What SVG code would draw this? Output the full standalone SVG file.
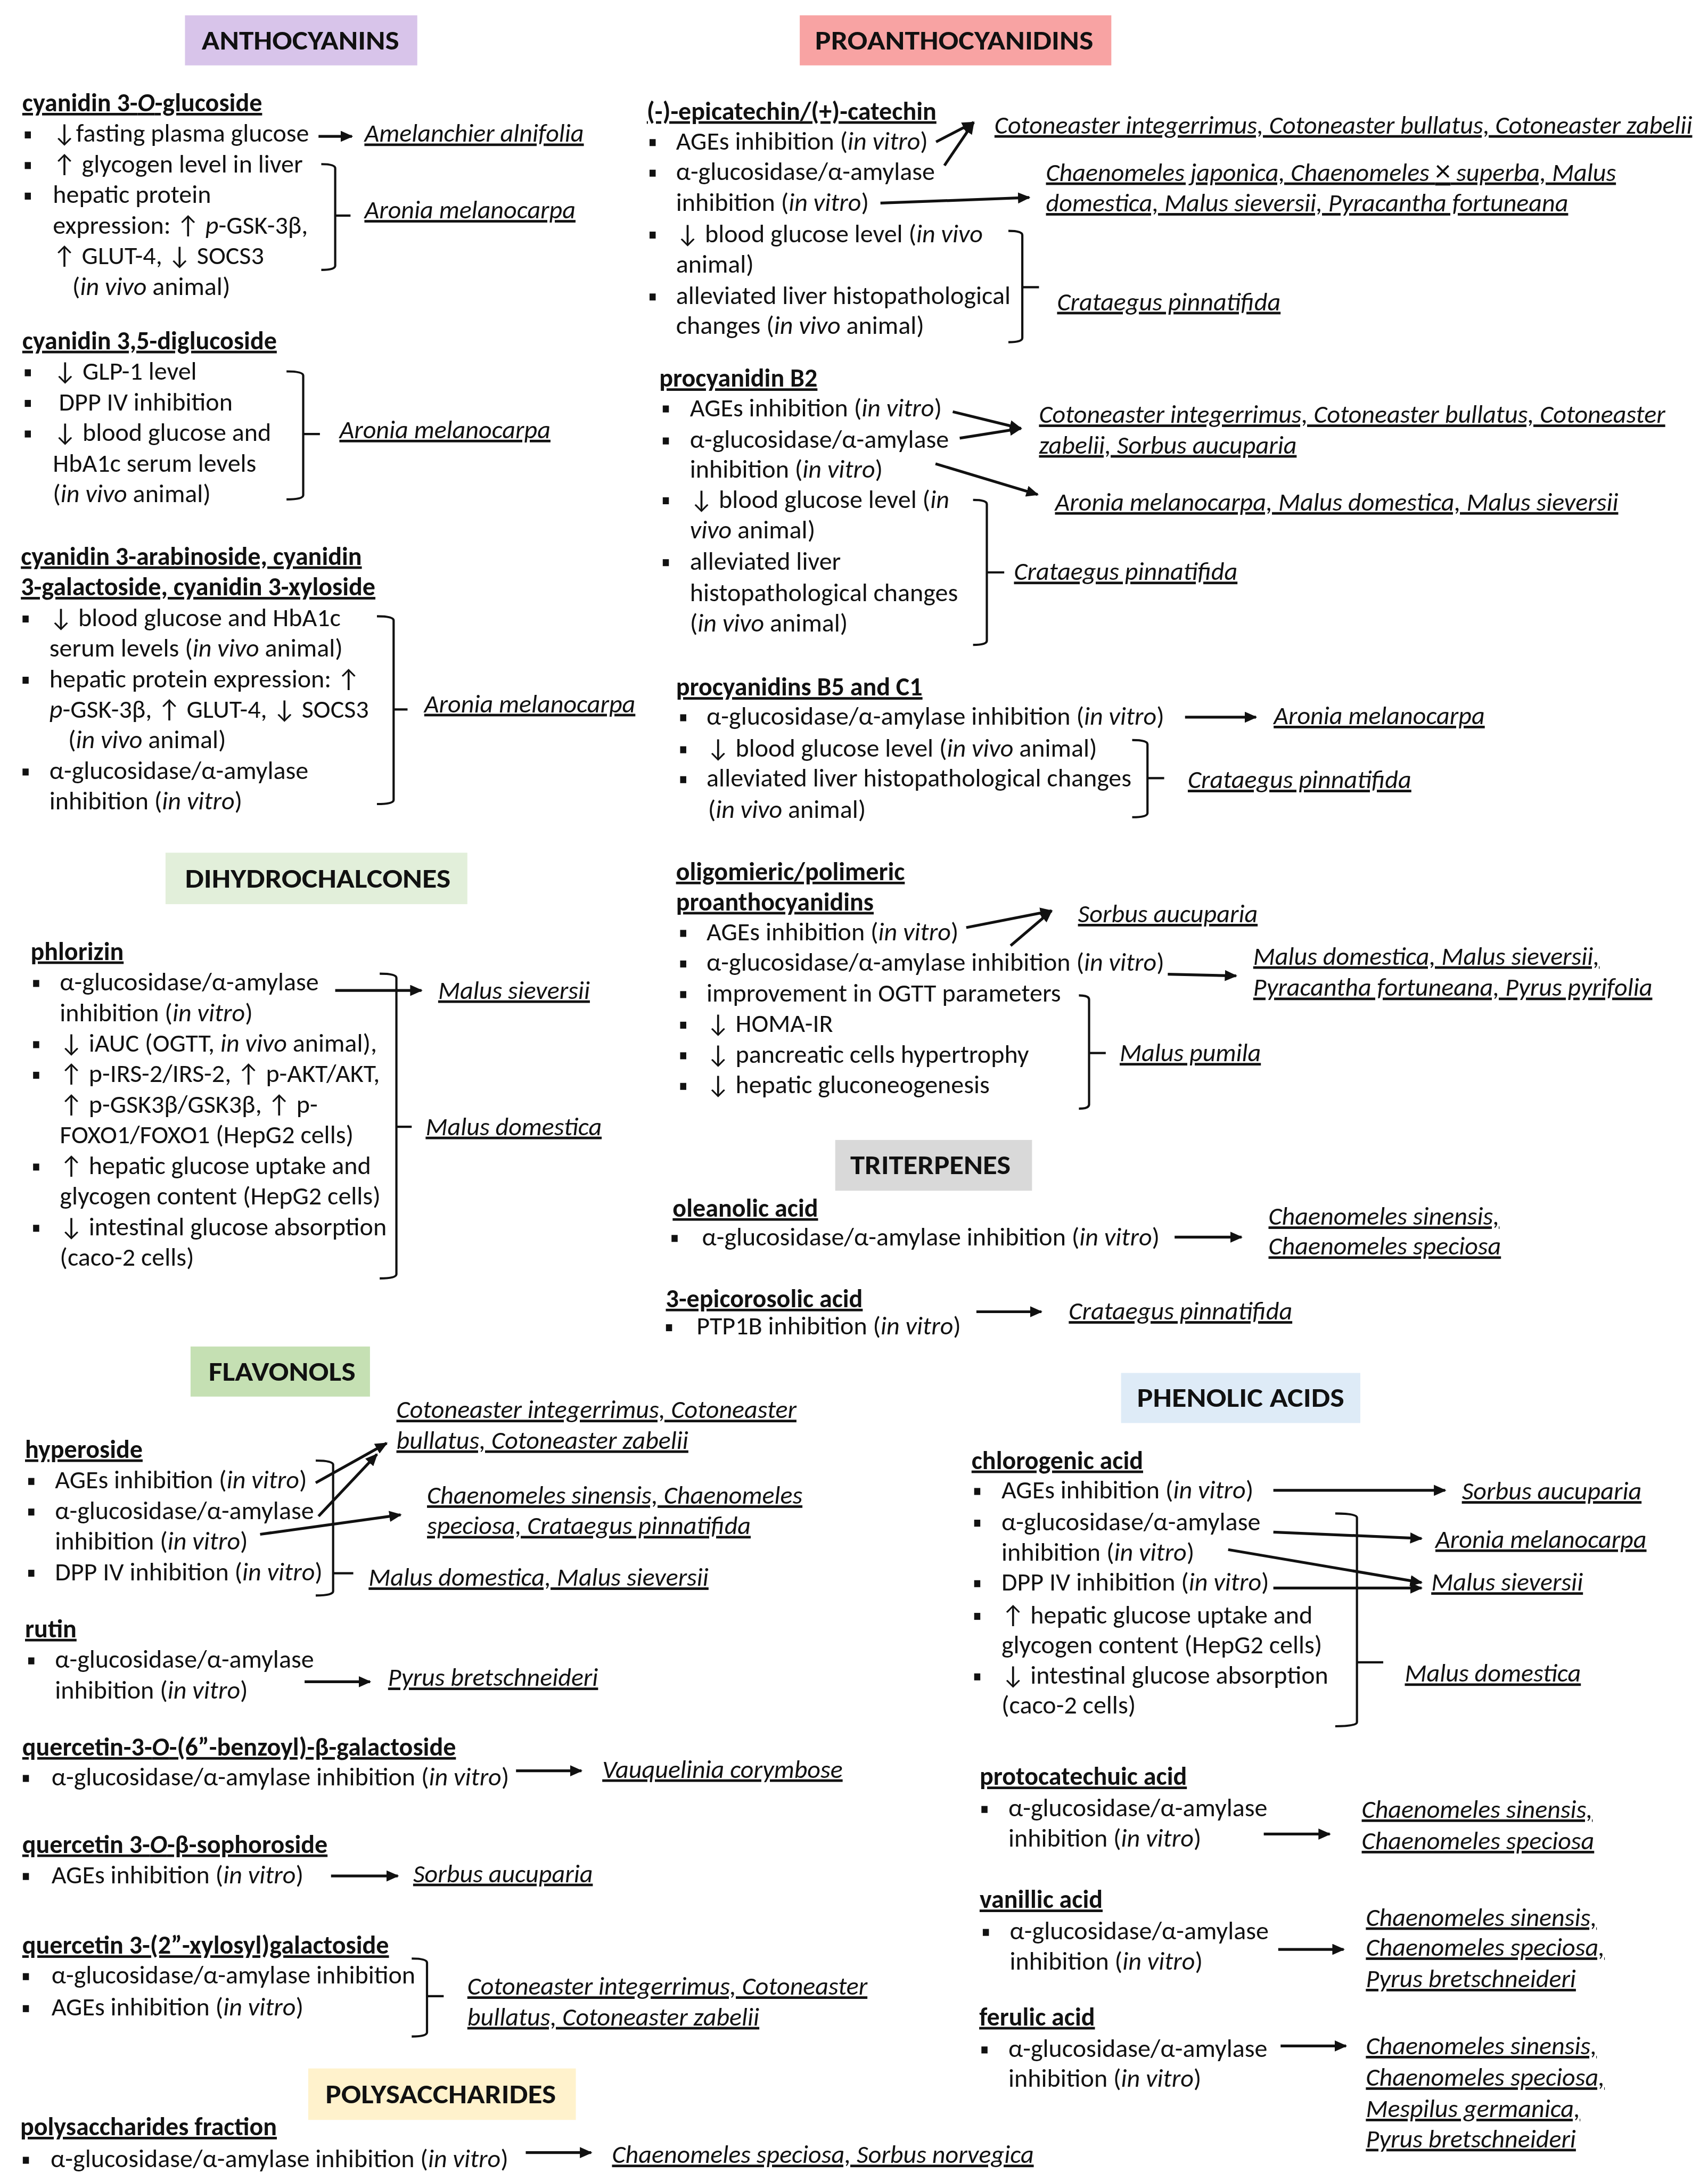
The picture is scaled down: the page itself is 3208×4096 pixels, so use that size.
<svg xmlns="http://www.w3.org/2000/svg" width="3208" height="4096" viewBox="0 0 3208 4096">
<defs>
<style>
.t{font-family:Carlito,Lato,"Noto Sans",sans-serif;font-size:18.4px;fill:#111}
.ti{font-weight:bold;text-decoration:underline}
.sp{font-style:italic;text-decoration:underline}
.h{font-weight:bold;font-size:19.5px}
.i{font-style:italic}
.n{font-style:normal}
.bl{fill:#111}
.ar{stroke:#111;stroke-width:2;fill:none;marker-end:url(#ah)}
.br{stroke:#111;stroke-width:1.6;fill:none}
</style>
<marker id="ah" viewBox="0 0 10 10" refX="9" refY="5" markerWidth="9" markerHeight="8" markerUnits="userSpaceOnUse" orient="auto" preserveAspectRatio="none"><path d="M0,0 L10,5 L0,10 z" fill="#111"/></marker>
</defs>
<rect width="3208" height="4096" fill="#fff"/>
<g transform="scale(2.6124)">

<!-- Headers -->
<g id="hdr-anthocyanins"><rect x="133" y="11" width="167" height="36" fill="#D8C4EA"/><text class="t h" x="145" y="35.5" textLength="142" lengthAdjust="spacingAndGlyphs">ANTHOCYANINS</text></g>
<g id="hdr-proanthocyanidins"><rect x="575" y="11" width="224" height="36" fill="#F8A3A3"/><text class="t h" x="586" y="35.5" textLength="200" lengthAdjust="spacingAndGlyphs">PROANTHOCYANIDINS</text></g>
<g id="hdr-dihydrochalcones"><rect x="119" y="613" width="217" height="37" fill="#E2EFDA"/><text class="t h" x="133" y="638" textLength="191" lengthAdjust="spacingAndGlyphs">DIHYDROCHALCONES</text></g>
<g id="hdr-triterpenes"><rect x="600.5" y="819.5" width="141.5" height="36.5" fill="#D9D9D9"/><text class="t h" x="611.3" y="844" textLength="115.3" lengthAdjust="spacingAndGlyphs">TRITERPENES</text></g>
<g id="hdr-flavonols"><rect x="137" y="968" width="129" height="36" fill="#C5E0B3"/><text class="t h" x="150" y="992.5" textLength="105.6" lengthAdjust="spacingAndGlyphs">FLAVONOLS</text></g>
<g id="hdr-phenolic-acids"><rect x="806" y="987" width="172" height="36" fill="#DEEBF7"/><text class="t h" x="817.5" y="1011.5" textLength="149" lengthAdjust="spacingAndGlyphs">PHENOLIC ACIDS</text></g>
<g id="hdr-polysaccharides"><rect x="221.6" y="1487" width="192.4" height="37" fill="#FFF2CC"/><text class="t h" x="234" y="1512" textLength="165.7" lengthAdjust="spacingAndGlyphs">POLYSACCHARIDES</text></g>

<!-- ANTHOCYANINS compounds -->
<g id="c3g">
<text class="t ti" x="16" y="80">cyanidin 3-<tspan class="i">O</tspan>-glucoside</text>
<rect class="bl" x="17.8" y="94.5" width="4.4" height="5"/>
<rect class="bl" x="17.8" y="116.5" width="4.4" height="5"/>
<rect class="bl" x="17.8" y="138.5" width="4.4" height="5"/>
<text class="t" x="38" y="102">↓fasting plasma glucose</text>
<text class="t" x="38" y="124">↑ glycogen level in liver</text>
<text class="t" x="38" y="146">hepatic protein</text>
<text class="t" x="38" y="168">expression: ↑ <tspan class="i">p</tspan>-GSK-3β,</text>
<text class="t" x="38" y="190">↑ GLUT-4, ↓ SOCS3</text>
<text class="t" x="52" y="212">(<tspan class="i">in vivo</tspan> animal)</text>
</g>
<g id="c35">
<text class="t ti" x="16" y="251">cyanidin 3,5-diglucoside</text>
<rect class="bl" x="17.8" y="265.5" width="4.4" height="5"/>
<rect class="bl" x="17.8" y="287.5" width="4.4" height="5"/>
<rect class="bl" x="17.8" y="309.5" width="4.4" height="5"/>
<text class="t" x="38.5" y="273">↓ GLP-1 level</text>
<text class="t" x="42.3" y="295">DPP IV inhibition</text>
<text class="t" x="38.5" y="317">↓ blood glucose and</text>
<text class="t" x="38" y="339">HbA1c serum levels</text>
<text class="t" x="38" y="361">(<tspan class="i">in vivo</tspan> animal)</text>
</g>
<g id="c3ara">
<text class="t ti" x="15" y="406">cyanidin 3-arabinoside, cyanidin</text>
<text class="t ti" x="15" y="428">3-galactoside, cyanidin 3-xyloside</text>
<rect class="bl" x="16.2" y="442.5" width="4.4" height="5"/>
<rect class="bl" x="16.2" y="486.5" width="4.4" height="5"/>
<rect class="bl" x="16.2" y="552.5" width="4.4" height="5"/>
<text class="t" x="35.5" y="450">↓ blood glucose and HbA1c</text>
<text class="t" x="35.5" y="472">serum levels (<tspan class="i">in vivo</tspan> animal)</text>
<text class="t" x="35.5" y="494">hepatic protein expression: ↑</text>
<text class="t" x="35.5" y="516"><tspan class="i">p</tspan>-GSK-3β, ↑ GLUT-4, ↓ SOCS3</text>
<text class="t" x="49" y="538">(<tspan class="i">in vivo</tspan> animal)</text>
<text class="t" x="35.5" y="560">α-glucosidase/α-amylase</text>
<text class="t" x="35.5" y="582">inhibition (<tspan class="i">in vitro</tspan>)</text>
</g>

<!-- DIHYDROCHALCONES -->
<g id="phlorizin">
<text class="t ti" x="22" y="690">phlorizin</text>
<rect class="bl" x="23.8" y="704.5" width="4.4" height="5"/>
<rect class="bl" x="23.8" y="748.5" width="4.4" height="5"/>
<rect class="bl" x="23.8" y="770.5" width="4.4" height="5"/>
<rect class="bl" x="23.8" y="836.5" width="4.4" height="5"/>
<rect class="bl" x="23.8" y="880.5" width="4.4" height="5"/>
<text class="t" x="43" y="712">α-glucosidase/α-amylase</text>
<text class="t" x="43" y="734">inhibition (<tspan class="i">in vitro</tspan>)</text>
<text class="t" x="43" y="756">↓ iAUC (OGTT, <tspan class="i">in vivo</tspan> animal),</text>
<text class="t" x="43" y="778">↑ p-IRS-2/IRS-2, ↑ p-AKT/AKT,</text>
<text class="t" x="43" y="800">↑ p-GSK3β/GSK3β, ↑ p-</text>
<text class="t" x="43" y="822">FOXO1/FOXO1  (HepG2 cells)</text>
<text class="t" x="43" y="844">↑ hepatic glucose uptake and</text>
<text class="t" x="43" y="866">glycogen content (HepG2 cells)</text>
<text class="t" x="43" y="888">↓ intestinal glucose absorption</text>
<text class="t" x="43" y="910">(caco-2 cells)</text>
</g>

<!-- FLAVONOLS -->
<g id="hyperoside">
<text class="t ti" x="18" y="1048">hyperoside</text>
<rect class="bl" x="20.3" y="1062.5" width="4.4" height="5"/>
<rect class="bl" x="20.3" y="1084.5" width="4.4" height="5"/>
<rect class="bl" x="20.3" y="1128.5" width="4.4" height="5"/>
<text class="t" x="39.5" y="1070">AGEs inhibition (<tspan class="i">in vitro</tspan>)</text>
<text class="t" x="39.5" y="1092">α-glucosidase/α-amylase</text>
<text class="t" x="39.5" y="1114">inhibition (<tspan class="i">in vitro</tspan>)</text>
<text class="t" x="39.5" y="1136">DPP IV inhibition (<tspan class="i">in vitro</tspan>)</text>
</g>
<g id="rutin">
<text class="t ti" x="18" y="1177">rutin</text>
<rect class="bl" x="20.3" y="1191.5" width="4.4" height="5"/>
<text class="t" x="39.5" y="1199">α-glucosidase/α-amylase</text>
<text class="t" x="39.5" y="1221">inhibition (<tspan class="i">in vitro</tspan>)</text>
</g>
<g id="q-benzoyl">
<text class="t ti" x="16" y="1262">quercetin-3-<tspan class="i">O</tspan>-(6”-benzoyl)-β-galactoside</text>
<rect class="bl" x="16.4" y="1276" width="4.4" height="5"/>
<text class="t" x="37" y="1283.5">α-glucosidase/α-amylase inhibition (<tspan class="i">in vitro</tspan>)</text>
</g>
<g id="q-sophoroside">
<text class="t ti" x="16" y="1332">quercetin 3-<tspan class="i">O</tspan>-β-sophoroside</text>
<rect class="bl" x="16.4" y="1346.5" width="4.4" height="5"/>
<text class="t" x="37" y="1354">AGEs inhibition (<tspan class="i">in vitro</tspan>)</text>
</g>
<g id="q-xylosyl">
<text class="t ti" x="16" y="1404.5">quercetin 3-(2”-xylosyl)galactoside</text>
<rect class="bl" x="16.4" y="1418.5" width="4.4" height="5"/>
<rect class="bl" x="16.4" y="1441.5" width="4.4" height="5"/>
<text class="t" x="37" y="1426">α-glucosidase/α-amylase inhibition</text>
<text class="t" x="37" y="1449">AGEs inhibition (<tspan class="i">in vitro</tspan>)</text>
</g>

<!-- POLYSACCHARIDES -->
<g id="polysaccharides-fraction">
<text class="t ti" x="14.5" y="1535">polysaccharides fraction</text>
<rect class="bl" x="16.4" y="1550.5" width="4.4" height="5"/>
<text class="t" x="36.4" y="1558">α-glucosidase/α-amylase inhibition (<tspan class="i">in vitro</tspan>)</text>
</g>

<!-- PROANTHOCYANIDINS -->
<g id="epicatechin">
<text class="t ti" x="465" y="86">(-)-epicatechin/(+)-catechin</text>
<rect class="bl" x="467" y="100" width="4.4" height="5"/>
<rect class="bl" x="467" y="122" width="4.4" height="5"/>
<rect class="bl" x="467" y="166.5" width="4.4" height="5"/>
<rect class="bl" x="467" y="211" width="4.4" height="5"/>
<text class="t" x="486" y="107.5">AGEs inhibition (<tspan class="i">in vitro</tspan>)</text>
<text class="t" x="486" y="129.5">α-glucosidase/α-amylase</text>
<text class="t" x="486" y="151.5">inhibition (<tspan class="i">in vitro</tspan>)</text>
<text class="t" x="486" y="174">↓ blood glucose level (<tspan class="i">in vivo</tspan></text>
<text class="t" x="486" y="196">animal)</text>
<text class="t" x="486" y="218.5">alleviated liver histopathological</text>
<text class="t" x="486" y="240">changes (<tspan class="i">in vivo</tspan> animal)</text>
</g>
<g id="procyanidin-b2">
<text class="t ti" x="474" y="278">procyanidin B2</text>
<rect class="bl" x="476.5" y="291.5" width="4.4" height="5"/>
<rect class="bl" x="476.5" y="314.5" width="4.4" height="5"/>
<rect class="bl" x="476.5" y="357.5" width="4.4" height="5"/>
<rect class="bl" x="476.5" y="402" width="4.4" height="5"/>
<text class="t" x="496" y="299.5">AGEs inhibition (<tspan class="i">in vitro</tspan>)</text>
<text class="t" x="496" y="322">α-glucosidase/α-amylase</text>
<text class="t" x="496" y="343.5">inhibition (<tspan class="i">in vitro</tspan>)</text>
<text class="t" x="496" y="365">↓ blood glucose level (<tspan class="i">in</tspan></text>
<text class="t" x="496" y="387"><tspan class="i">vivo</tspan> animal)</text>
<text class="t" x="496" y="409.5">alleviated liver</text>
<text class="t" x="496" y="432">histopathological changes</text>
<text class="t" x="496" y="454">(<tspan class="i">in vivo</tspan> animal)</text>
</g>
<g id="procyanidins-b5-c1">
<text class="t ti" x="486" y="500">procyanidins B5 and C1</text>
<rect class="bl" x="489" y="513.5" width="4.4" height="5"/>
<rect class="bl" x="489" y="536.5" width="4.4" height="5"/>
<rect class="bl" x="489" y="558" width="4.4" height="5"/>
<text class="t" x="508" y="521">α-glucosidase/α-amylase inhibition (<tspan class="i">in vitro</tspan>)</text>
<text class="t" x="508" y="544">↓ blood glucose level (<tspan class="i">in vivo</tspan> animal)</text>
<text class="t" x="508" y="565.5">alleviated liver histopathological changes</text>
<text class="t" x="509" y="588">(<tspan class="i">in vivo</tspan> animal)</text>
</g>
<g id="oligomeric-proanthocyanidins">
<text class="t ti" x="486" y="632.7">oligomieric/polimeric</text>
<text class="t ti" x="486" y="654.4">proanthocyanidins</text>
<rect class="bl" x="489" y="668.5" width="4.4" height="5"/>
<rect class="bl" x="489" y="690.5" width="4.4" height="5"/>
<rect class="bl" x="489" y="712.5" width="4.4" height="5"/>
<rect class="bl" x="489" y="734.5" width="4.4" height="5"/>
<rect class="bl" x="489" y="756.5" width="4.4" height="5"/>
<rect class="bl" x="489" y="778.5" width="4.4" height="5"/>
<text class="t" x="508" y="676">AGEs inhibition (<tspan class="i">in vitro</tspan>)</text>
<text class="t" x="508" y="698">α-glucosidase/α-amylase inhibition (<tspan class="i">in vitro</tspan>)</text>
<text class="t" x="508" y="720">improvement in OGTT parameters</text>
<text class="t" x="508" y="742">↓ HOMA-IR</text>
<text class="t" x="508" y="764">↓ pancreatic cells hypertrophy</text>
<text class="t" x="508" y="786">↓ hepatic gluconeogenesis</text>
</g>

<!-- TRITERPENES -->
<g id="oleanolic-acid">
<text class="t ti" x="483.6" y="874.6">oleanolic acid</text>
<rect class="bl" x="482.8" y="887.8" width="4.4" height="5"/>
<text class="t" x="504.7" y="895.3">α-glucosidase/α-amylase inhibition (<tspan class="i">in vitro</tspan>)</text>
</g>
<g id="epicorosolic-acid">
<text class="t ti" x="478.7" y="939.7">3-epicorosolic acid</text>
<rect class="bl" x="478.8" y="952" width="4.4" height="5"/>
<text class="t" x="500.8" y="959.4">PTP1B inhibition (<tspan class="i">in vitro</tspan>)</text>
</g>

<!-- PHENOLIC ACIDS -->
<g id="chlorogenic-acid">
<text class="t ti" x="698.5" y="1056">chlorogenic acid</text>
<rect class="bl" x="700.4" y="1069.7" width="4.4" height="5"/>
<rect class="bl" x="700.4" y="1092.5" width="4.4" height="5"/>
<rect class="bl" x="700.4" y="1136" width="4.4" height="5"/>
<rect class="bl" x="700.4" y="1159.5" width="4.4" height="5"/>
<rect class="bl" x="700.4" y="1203" width="4.4" height="5"/>
<text class="t" x="720" y="1077.2">AGEs inhibition (<tspan class="i">in vitro</tspan>)</text>
<text class="t" x="720" y="1100">α-glucosidase/α-amylase</text>
<text class="t" x="720" y="1122">inhibition (<tspan class="i">in vitro</tspan>)</text>
<text class="t" x="720" y="1143.5">DPP IV inhibition (<tspan class="i">in vitro</tspan>)</text>
<text class="t" x="720" y="1167">↑ hepatic glucose uptake and</text>
<text class="t" x="720" y="1188.5">glycogen content (HepG2 cells)</text>
<text class="t" x="720" y="1210.5">↓ intestinal glucose absorption</text>
<text class="t" x="720" y="1232">(caco-2 cells)</text>
</g>
<g id="protocatechuic-acid">
<text class="t ti" x="704.3" y="1283.2">protocatechuic acid</text>
<rect class="bl" x="705.6" y="1298.3" width="4.4" height="5"/>
<text class="t" x="725" y="1305.8">α-glucosidase/α-amylase</text>
<text class="t" x="725" y="1327.4">inhibition (<tspan class="i">in vitro</tspan>)</text>
</g>
<g id="vanillic-acid">
<text class="t ti" x="704.3" y="1371.6">vanillic acid</text>
<rect class="bl" x="706.6" y="1386.7" width="4.4" height="5"/>
<text class="t" x="726" y="1394.2">α-glucosidase/α-amylase</text>
<text class="t" x="726" y="1415.8">inhibition (<tspan class="i">in vitro</tspan>)</text>
</g>
<g id="ferulic-acid">
<text class="t ti" x="704" y="1456">ferulic acid</text>
<rect class="bl" x="705.6" y="1471.2" width="4.4" height="5"/>
<text class="t" x="725" y="1478.7">α-glucosidase/α-amylase</text>
<text class="t" x="725" y="1500.3">inhibition (<tspan class="i">in vitro</tspan>)</text>
</g>

<!-- Species -->
<g id="sp-amelanchier"><text class="t sp" x="262" y="102">Amelanchier alnifolia</text></g>
<g id="sp-aronia-1"><text class="t sp" x="262" y="157">Aronia melanocarpa</text></g>
<g id="sp-aronia-2"><text class="t sp" x="244" y="315">Aronia melanocarpa</text></g>
<g id="sp-aronia-3"><text class="t sp" x="305" y="512">Aronia melanocarpa</text></g>
<g id="sp-malus-sieversii-1"><text class="t sp" x="315" y="718">Malus sieversii</text></g>
<g id="sp-malus-domestica-1"><text class="t sp" x="306" y="816">Malus domestica</text></g>
<g id="sp-cotoneaster-1"><text class="t sp" x="285" y="1019.5">Cotoneaster integerrimus, Cotoneaster</text><text class="t sp" x="285" y="1041.5">bullatus, Cotoneaster zabelii</text></g>
<g id="sp-chaenomeles-1"><text class="t sp" x="307" y="1081">Chaenomeles sinensis, Chaenomeles</text><text class="t sp" x="307" y="1103">speciosa, Crataegus pinnatifida</text></g>
<g id="sp-malus-2"><text class="t sp" x="265" y="1140">Malus domestica, Malus sieversii</text></g>
<g id="sp-pyrus-1"><text class="t sp" x="279" y="1212">Pyrus bretschneideri</text></g>
<g id="sp-vauquelinia"><text class="t sp" x="433" y="1278">Vauquelinia corymbose</text></g>
<g id="sp-sorbus-1"><text class="t sp" x="297" y="1353">Sorbus aucuparia</text></g>
<g id="sp-cotoneaster-2"><text class="t sp" x="336" y="1434">Cotoneaster integerrimus, Cotoneaster</text><text class="t sp" x="336" y="1456">bullatus, Cotoneaster zabelii</text></g>
<g id="sp-chaenomeles-sorbus"><text class="t sp" x="440" y="1555">Chaenomeles speciosa, Sorbus norvegica</text></g>
<g id="sp-cotoneaster-3"><text class="t sp" x="715" y="96">Cotoneaster integerrimus, Cotoneaster bullatus, Cotoneaster zabelii</text></g>
<g id="sp-chaenomeles-2"><text class="t sp" x="752" y="130">Chaenomeles japonica, Chaenomeles <tspan class="n" font-size="22">×</tspan> superba, Malus</text><text class="t sp" x="752" y="152">domestica, Malus sieversii, Pyracantha fortuneana</text></g>
<g id="sp-crataegus-1"><text class="t sp" x="760" y="223">Crataegus pinnatifida</text></g>
<g id="sp-cotoneaster-4"><text class="t sp" x="747" y="304">Cotoneaster integerrimus, Cotoneaster bullatus, Cotoneaster</text><text class="t sp" x="747" y="326">zabelii, Sorbus aucuparia</text></g>
<g id="sp-aronia-malus"><text class="t sp" x="758.5" y="367">Aronia melanocarpa, Malus domestica, Malus sieversii</text></g>
<g id="sp-crataegus-2"><text class="t sp" x="729" y="417">Crataegus pinnatifida</text></g>
<g id="sp-aronia-4"><text class="t sp" x="915.7" y="520.6">Aronia melanocarpa</text></g>
<g id="sp-crataegus-3"><text class="t sp" x="854" y="566.6">Crataegus pinnatifida</text></g>
<g id="sp-sorbus-2"><text class="t sp" x="775" y="663">Sorbus aucuparia</text></g>
<g id="sp-malus-pyrus"><text class="t sp" x="901" y="693.5">Malus domestica, Malus sieversii,</text><text class="t sp" x="901" y="716">Pyracantha fortuneana, Pyrus pyrifolia</text></g>
<g id="sp-malus-pumila"><text class="t sp" x="805" y="763">Malus pumila</text></g>
<g id="sp-chaenomeles-3"><text class="t sp" x="912" y="880.5">Chaenomeles sinensis,</text><text class="t sp" x="912" y="902">Chaenomeles speciosa</text></g>
<g id="sp-crataegus-4"><text class="t sp" x="768.4" y="948.6">Crataegus pinnatifida</text></g>
<g id="sp-sorbus-3"><text class="t sp" x="1051" y="1078">Sorbus aucuparia</text></g>
<g id="sp-aronia-5"><text class="t sp" x="1032" y="1112.7">Aronia melanocarpa</text></g>
<g id="sp-malus-sieversii-2"><text class="t sp" x="1029" y="1143.5">Malus sieversii</text></g>
<g id="sp-malus-domestica-2"><text class="t sp" x="1010" y="1209">Malus domestica</text></g>
<g id="sp-chaenomeles-4"><text class="t sp" x="979" y="1306.8">Chaenomeles sinensis,</text><text class="t sp" x="979" y="1329.4">Chaenomeles speciosa</text></g>
<g id="sp-chaenomeles-5"><text class="t sp" x="982" y="1384.4">Chaenomeles sinensis,</text><text class="t sp" x="982" y="1406">Chaenomeles speciosa,</text><text class="t sp" x="982" y="1428.6">Pyrus bretschneideri</text></g>
<g id="sp-chaenomeles-6"><text class="t sp" x="982" y="1476.8">Chaenomeles sinensis,</text><text class="t sp" x="982" y="1499.4">Chaenomeles speciosa,</text><text class="t sp" x="982" y="1522">Mespilus germanica,</text><text class="t sp" x="982" y="1543.6">Pyrus bretschneideri</text></g>

<!-- Connectors -->
<g id="connectors">
<path class="ar" d="M229,98 L253,98"/>
<path class="ar" d="M241,712 L303,712"/>
<path class="ar" d="M227,1066 L278,1037.5"/>
<path class="ar" d="M229,1090 L271,1045.5"/>
<path class="ar" d="M187,1103 L288,1089"/>
<path class="ar" d="M219,1209 L266,1209"/>
<path class="ar" d="M371,1273 L418,1273"/>
<path class="ar" d="M238,1348.6 L286,1348.6"/>
<path class="ar" d="M378,1547.5 L425,1547.5"/>
<path class="ar" d="M673,102 L700,88"/>
<path class="ar" d="M679,119 L700,88"/>
<path class="ar" d="M633,146 L740,142"/>
<path class="ar" d="M685,296 L734,308"/>
<path class="ar" d="M690,315 L734,308"/>
<path class="ar" d="M672.6,333.4 L746,355.5"/>
<path class="ar" d="M852,515.6 L903,515.6"/>
<path class="ar" d="M694.7,666.8 L756,654.8"/>
<path class="ar" d="M726.6,679.8 L756,654.8"/>
<path class="ar" d="M839.6,700.4 L888.7,701.5"/>
<path class="ar" d="M844.5,889.4 L892.6,889.4"/>
<path class="ar" d="M702,943 L748.7,943"/>
<path class="ar" d="M915.5,1071.4 L1039,1071.4"/>
<path class="ar" d="M915.5,1101.4 L1022,1106"/>
<path class="ar" d="M883,1114 L1022,1137.7"/>
<path class="ar" d="M915.5,1141.6 L1022,1141.6"/>
<path class="ar" d="M908.6,1318.5 L956,1318.5"/>
<path class="ar" d="M919,1401.4 L966,1401.4"/>
<path class="ar" d="M920.7,1470.8 L967.7,1470.8"/>
<path class="br" d="M231,118 Q241,118 241,121 V191 Q241,194 231,194 M241,155 H252"/>
<path class="br" d="M206,267 Q218,267 218,270 V356 Q218,359 206,359 M218,312 H230"/>
<path class="br" d="M271,443 Q283,443 283,446 V575 Q283,578 271,578 M283,510 H293"/>
<path class="br" d="M273,700 Q285,700 285,703 V916 Q285,919 273,919 M285,810 H296"/>
<path class="br" d="M227,1050 Q239.5,1050 239.5,1053 V1144 Q239.5,1147 227,1147 M239.5,1131 H254"/>
<path class="br" d="M296,1408 Q307,1408 307,1411 V1461 Q307,1464 296,1464 M307,1435 H319"/>
<path class="br" d="M725,166 Q735,166 735,169 V243 Q735,246 725,246 M735,206.5 H747"/>
<path class="br" d="M699.6,359.4 Q709.5,359.4 709.5,362.4 V460.6 Q709.5,463.6 699.6,463.6 M709.5,411.5 H722"/>
<path class="br" d="M814,532 Q825,532 825,535 V584.5 Q825,587.5 814,587.5 M825,559.4 H837"/>
<path class="br" d="M775.7,715.6 Q783,715.6 783,718.6 V794 Q783,797 775.7,797 M783,757 H795"/>
<path class="br" d="M960,1088 Q975.6,1088 975.6,1091 V1238 Q975.6,1241 960,1241 M975.6,1195 H994.5"/>
</g>
</g>
</svg>
